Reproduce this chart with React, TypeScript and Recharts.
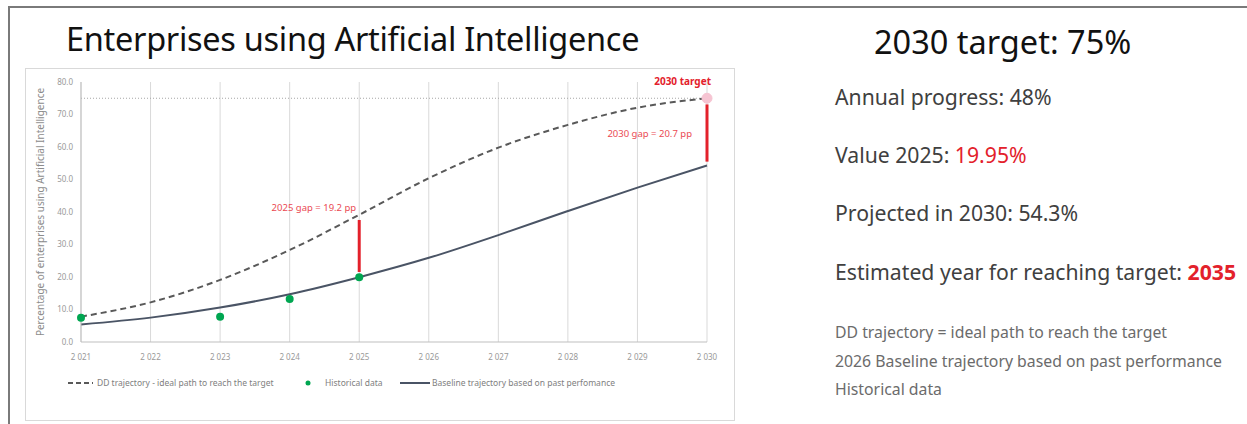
import {
  ComposedChart, Line, Scatter, XAxis, YAxis, CartesianGrid,
  ReferenceLine, ReferenceDot, Label,
} from "recharts";

const years = [2021, 2022, 2023, 2024, 2025, 2026, 2027, 2028, 2029, 2030];
const ddTrajectory = [7.8, 12.2, 19.1, 28.3, 39.15, 50.4, 59.8, 66.8, 72.1, 75.0];
const baseline = [5.4, 7.5, 10.6, 14.7, 19.95, 25.9, 32.9, 40.3, 47.5, 54.3];
const historicalYears = [2021, 2023, 2024, 2025];
const historicalValues = [7.5, 7.8, 13.2, 19.95];
const yTicks = [0, 10, 20, 30, 40, 50, 60, 70, 80];

const target2030 = 75;
const gap2025 = 19.2;
const gap2030 = 20.7;

const rows = years.map((year, i) => ({ year, dd: ddTrajectory[i], baseline: baseline[i] }));
const historical = historicalYears.map((year, i) => ({ year, value: historicalValues[i] }));

const FONT = "'Noto Sans', 'Open Sans', sans-serif";
const RED = "#e3212b";
const LABEL_RED = "#ea4a53";
const AXIS_TEXT = "#999999";

// "2 021" style year labels
const fmtYear = (v: number) => {
  const s = String(v);
  return s.slice(0, 1) + " " + s.slice(1);
};

function Text({ top, left, size, color = "#404040", children, weight = 400 }: any) {
  return (
    <div
      style={{
        position: "absolute", top, left, fontSize: size, lineHeight: `${size}px`,
        color, fontWeight: weight, whiteSpace: "nowrap", fontFamily: FONT,
      }}
    >
      {children}
    </div>
  );
}

function LegendRow() {
  const txt = { fontSize: 8.5, color: "#808080", fontFamily: FONT, lineHeight: "12px" };
  return (
    <div style={{ position: "absolute", top: 377, left: 66, height: 12, width: 600 }}>
      <svg width={600} height={12} style={{ position: "absolute", top: 0, left: 0 }}>
        <line x1={2} x2={27} y1={6} y2={6} stroke="#595959" strokeWidth={2} strokeDasharray="5 3" />
        <circle cx={242} cy={6} r={2.5} fill="#00a651" />
        <line x1={334} x2={364} y1={6} y2={6} stroke="#4a5465" strokeWidth={2} />
      </svg>
      <span style={{ ...txt, position: "absolute", left: 31, top: 0 }}>DD trajectory - ideal path to reach the target</span>
      <span style={{ ...txt, position: "absolute", left: 259, top: 0 }}>Historical data</span>
      <span style={{ ...txt, position: "absolute", left: 366, top: 0 }}>Baseline trajectory based on past perfomance</span>
    </div>
  );
}

export default function App() {
  const b2025 = baseline[4];
  const b2030 = baseline[9];
  return (
    <div style={{ position: "absolute", top: 0, left: 0, width: 1247, height: 424, background: "#fff", overflow: "hidden", fontFamily: FONT }}>
      {/* outer frame */}
      <div style={{ position: "absolute", top: 6, left: 8, right: 0, height: 2, background: "#7a7a7a" }} />
      <div style={{ position: "absolute", top: 6, left: 8, bottom: 0, width: 2, background: "#7a7a7a" }} />

      <Text top={23} left={66} size={32.5} color="#111">
        <span style={{ letterSpacing: -0.3 }}>Enterprises using Artificial Intelligence</span>
      </Text>

      {/* chart box */}
      <div style={{ position: "absolute", top: 68, left: 25, width: 710, height: 353, border: "1px solid #d9d9d9", boxSizing: "border-box" }} />
      <div style={{ position: "absolute", top: 68, left: 25 }}>
        <ComposedChart width={710} height={353} data={rows} margin={{ top: 14, right: 28, bottom: 59, left: 0 }}>
          <CartesianGrid horizontal={false} stroke="#d9d9d9" />
          <XAxis
            dataKey="year" type="number" domain={[2021, 2030]} ticks={years}
            tickFormatter={fmtYear} tickLine={false} axisLine={{ stroke: "#bfbfbf" }}
            tick={{ fontSize: 8, fill: AXIS_TEXT, fontFamily: FONT }} height={20} tickMargin={6}
          />
          <YAxis
            domain={[0, 80]} ticks={yTicks} tickFormatter={(v: number) => v.toFixed(1)}
            tickLine={false} axisLine={{ stroke: "#bfbfbf" }} width={56}
            tick={{ fontSize: 8, fill: AXIS_TEXT, fontFamily: FONT }}
          >
            <Label
              value="Percentage of enterprises using Artificial Intelligence"
              angle={-90} position="insideLeft" offset={20} dx={-5}
              style={{ fontSize: 10, fill: "#8c8c8c", fontFamily: FONT, textAnchor: "middle" }}
            />
          </YAxis>
          <ReferenceLine y={target2030} stroke="#a6a6a6" strokeDasharray="1 2" />
          <Line
            dataKey="dd" type="monotone" stroke="#595959" strokeWidth={2}
            strokeDasharray="6 4" dot={false} isAnimationActive={false}
          />
          <Line
            dataKey="baseline" type="monotone" stroke="#4a5465" strokeWidth={2}
            dot={false} isAnimationActive={false}
          />
          <Scatter data={historical} dataKey="value" fill="#00a651" isAnimationActive={false}
            shape={(p: any) => <circle cx={p.cx} cy={p.cy} r={4} fill="#00a651" />}
          />
          <ReferenceLine
            segment={[{ x: 2025, y: b2025 + 1.6 }, { x: 2025, y: b2025 + gap2025 - 1.6 }]}
            stroke={RED} strokeWidth={3}
          />
          <ReferenceLine
            segment={[{ x: 2030, y: b2030 + 1.2 }, { x: 2030, y: b2030 + gap2030 - 1.9 }]}
            stroke={RED} strokeWidth={3}
          />
          <ReferenceDot x={2030} y={target2030} r={5} fill="#f6c4d2" stroke="#f6c4d2" />
          <ReferenceDot x={2025} y={41.2} r={0} stroke="none">
            <Label value={`2025 gap =  ${gap2025} pp`} position="left" offset={3}
              style={{ fontSize: 9.5, fill: LABEL_RED, fontFamily: FONT }} />
          </ReferenceDot>
          <ReferenceDot x={2030} y={64} r={0} stroke="none">
            <Label value={`2030 gap = ${gap2030}  pp`} position="left" offset={15}
              style={{ fontSize: 9.5, fill: LABEL_RED, fontFamily: FONT }} />
          </ReferenceDot>
          <ReferenceDot x={2030} y={80.3} r={0} stroke="none" ifOverflow="visible">
            <Label value="2030 target" position="left" offset={-4}
              style={{ fontSize: 10, fill: RED, fontWeight: 700, fontFamily: FONT }} />
          </ReferenceDot>
        </ComposedChart>
      </div>
      <LegendRow />

      {/* summary panel */}
      <Text top={26} left={874} size={32.5} color="#111">2030 target: 75%</Text>
      <Text top={86} left={835} size={21.2}>Annual progress: 48%</Text>
      <Text top={144} left={835} size={21.2}>
        Value 2025: <span style={{ color: RED }}>19.95%</span>
      </Text>
      <Text top={202} left={835} size={21.2}>Projected in 2030: 54.3%</Text>
      <Text top={261} left={835} size={21.2}>
        Estimated year for reaching target: <span style={{ color: RED, fontWeight: 700 }}>2035</span>
      </Text>
      <Text top={325} left={835} size={15.8} color="#6b6b6b">DD trajectory = ideal path to reach the target</Text>
      <Text top={354} left={835} size={15.8} color="#6b6b6b">2026 Baseline trajectory based on past performance</Text>
      <Text top={382} left={835} size={15.8} color="#6b6b6b">Historical data</Text>
    </div>
  );
}
